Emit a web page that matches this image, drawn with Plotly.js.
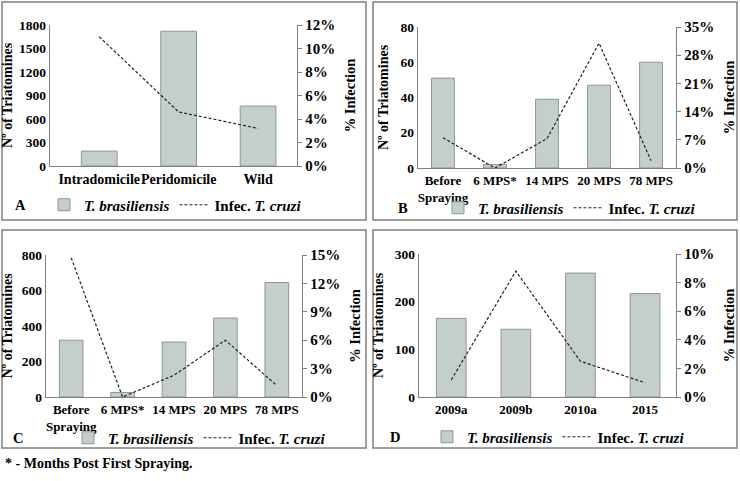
<!DOCTYPE html>
<html>
<head>
<meta charset="utf-8">
<script src="https://cdn.plot.ly/plotly-3.0.1.min.js"></script>
<style>html,body{margin:0;padding:0;background:#fff;}#chart{width:740px;height:481px;}</style>
</head>
<body>
<div id="chart"></div>
<script>
// ---- Data ----
const catsA = ["Intradomicile", "Peridomicile", "Wild"];
const countA = [190, 1720, 765];
const infA = [11.0, 4.6, 3.2];

const catsB = ["Before<br>Spraying", "6 MPS*", "14 MPS", "20 MPS", "78 MPS"];
const countB = [51, 2, 39, 47, 60];
const infB = [7.5, 0, 7.3, 31, 1.8];

const catsC = ["Before<br>Spraying", "6 MPS*", "14 MPS", "20 MPS", "78 MPS"];
const countC = [320, 25, 310, 445, 645];
const infC = [14.7, 0, 2.3, 6.0, 1.2];

const catsD = ["2009a", "2009b", "2010a", "2015"];
const countD = [165, 142, 260, 217];
const infD = [1.2, 8.8, 2.5, 1.0];

const panelLetters = ["A", "B", "C", "D"];
const barName = "<b><i>T. brasiliensis</i></b>";
const lineName = "<b>Infec. <i>T. cruzi</i></b>";
const leftTitle = "<b>Nº of Triatomines</b>";
const rightTitle = "<b>% Infection</b>";
const footnote = "<b>* - Months Post First Spraying.</b>";

// ---- Styling helpers ----
const W = 740, H = 481;
const FONT = 'Liberation Serif, Times New Roman, serif';
const BAR_FILL = '#c4cfcc', BAR_LINE = '#8d9794', AXIS = '#808080';
const px = v => v / W;
const py = v => 1 - v / H;

const panels = [
  {cats: catsA, cnt: countA, inf: infA, xd: [50, 297], yd: [166, 25], xr: [-0.62, 2.49], bw: 0.45,
   yMax: 1800, yDt: 300, rMax: 12, rDt: 2, tick: 14, leg: [44, 205]},
  {cats: catsB, cnt: countB, inf: infB, xd: [418, 676], yd: [168, 27], xr: [-0.48, 4.48], bw: 0.44,
   yMax: 80, yDt: 20, rMax: 35, rDt: 7, tick: 13, leg: [438, 208]},
  {cats: catsC, cnt: countC, inf: infC, xd: [46, 302], yd: [397, 255], xr: [-0.49, 4.49], bw: 0.46,
   yMax: 800, yDt: 200, rMax: 15, rDt: 3, tick: 13, leg: [68, 438]},
  {cats: catsD, cnt: countD, inf: infD, xd: [419, 676], yd: [397, 254], xr: [-0.5, 3.48], bw: 0.46,
   yMax: 300, yDt: 100, rMax: 10, rDt: 2, tick: 13, leg: [427, 437]}
];

const data = [];
const layout = {
  width: W, height: H,
  margin: {l: 0, r: 0, t: 0, b: 0},
  paper_bgcolor: '#fff', plot_bgcolor: 'rgba(0,0,0,0)',
  font: {family: FONT, size: 13, color: '#000'},
  showlegend: true,
  barmode: 'group',
  shapes: [], annotations: []
};

panels.forEach((p, i) => {
  const n = i + 1;
  const xk = n === 1 ? 'x' : 'x' + n;
  const yl = 2 * i + 1, yr = 2 * i + 2;
  const ylk = yl === 1 ? 'y' : 'y' + yl;
  const yrk = 'y' + yr;
  const legKey = n === 1 ? 'legend' : 'legend' + n;

  data.push({
    type: 'bar', x: p.cats, y: p.cnt, name: barName, xaxis: xk, yaxis: ylk,
    width: p.bw, marker: {color: BAR_FILL, line: {color: BAR_LINE, width: 1}},
    legend: legKey
  });
  data.push({
    type: 'scatter', mode: 'lines', x: p.cats, y: p.inf, name: lineName, xaxis: xk, yaxis: yrk,
    line: {color: '#222', width: 1.2, dash: '3px,2px'}, legend: legKey
  });

  layout[n === 1 ? 'xaxis' : 'xaxis' + n] = {
    domain: [px(p.xd[0]), px(p.xd[1])], anchor: ylk, type: 'category', tickangle: 0,
    range: p.xr, showline: true, linecolor: AXIS, linewidth: 1.2, ticks: '',
    showgrid: false, zeroline: false, fixedrange: true,
    tickfont: {family: FONT, size: p.tick, color: '#000', weight: 'bold'}
  };
  layout[yl === 1 ? 'yaxis' : 'yaxis' + yl] = {
    domain: [py(p.yd[0]), py(p.yd[1])], anchor: xk, range: [0, p.yMax], dtick: p.yDt,
    showline: true, linecolor: AXIS, linewidth: 1.2, ticks: '', showgrid: false, zeroline: false,
    tickfont: {family: FONT, size: 13.5, color: '#000', weight: 'bold'},
    title: {text: leftTitle, font: {family: FONT, size: 14, color: '#000'}, standoff: 8}
  };
  layout['yaxis' + yr] = {
    overlaying: ylk, side: 'right', anchor: xk, range: [0, p.rMax], dtick: p.rDt, ticksuffix: '%',
    showline: true, linecolor: AXIS, linewidth: 1.2, ticks: 'outside', ticklen: 4, tickcolor: AXIS,
    showgrid: false, zeroline: false,
    tickfont: {family: FONT, size: 15, color: '#000', weight: 'bold'},
    title: {text: rightTitle, font: {family: FONT, size: 14.5, color: '#000'}, standoff: 10}
  };
  layout[legKey] = {
    orientation: 'h', x: px(p.leg[0]), xanchor: 'left', y: py(p.leg[1]), yanchor: 'middle',
    bgcolor: 'rgba(0,0,0,0)', borderwidth: 0, itemwidth: 30, tracegroupgap: 0,
    font: {family: FONT, size: 15, color: '#000'}, traceorder: 'normal'
  };
});

// panel borders
const boxes = [[2, 2, 366, 220], [373, 2, 737, 220], [2, 230, 366, 448], [373, 230, 737, 448]];
boxes.forEach(b => layout.shapes.push({
  type: 'rect', xref: 'paper', yref: 'paper', x0: px(b[0]), x1: px(b[2]), y0: py(b[3]), y1: py(b[1]),
  line: {color: AXIS, width: 1.5}, fillcolor: 'rgba(0,0,0,0)', layer: 'below'
}));

// panel letters
const letterPos = [[20, 205], [403, 208], [18, 438], [395, 437]];
panelLetters.forEach((t, i) => layout.annotations.push({
  text: '<b>' + t + '</b>', xref: 'paper', yref: 'paper', x: px(letterPos[i][0]), y: py(letterPos[i][1]),
  xanchor: 'center', yanchor: 'middle', showarrow: false,
  font: {family: FONT, size: 14.5, color: '#000'}
}));

layout.annotations.push({
  text: footnote, xref: 'paper', yref: 'paper', x: px(3), y: py(463), xanchor: 'left', yanchor: 'middle',
  showarrow: false, font: {family: FONT, size: 14, color: '#000'}
});

Plotly.newPlot('chart', data, layout, {displayModeBar: false, staticPlot: true});
</script>
</body>
</html>
